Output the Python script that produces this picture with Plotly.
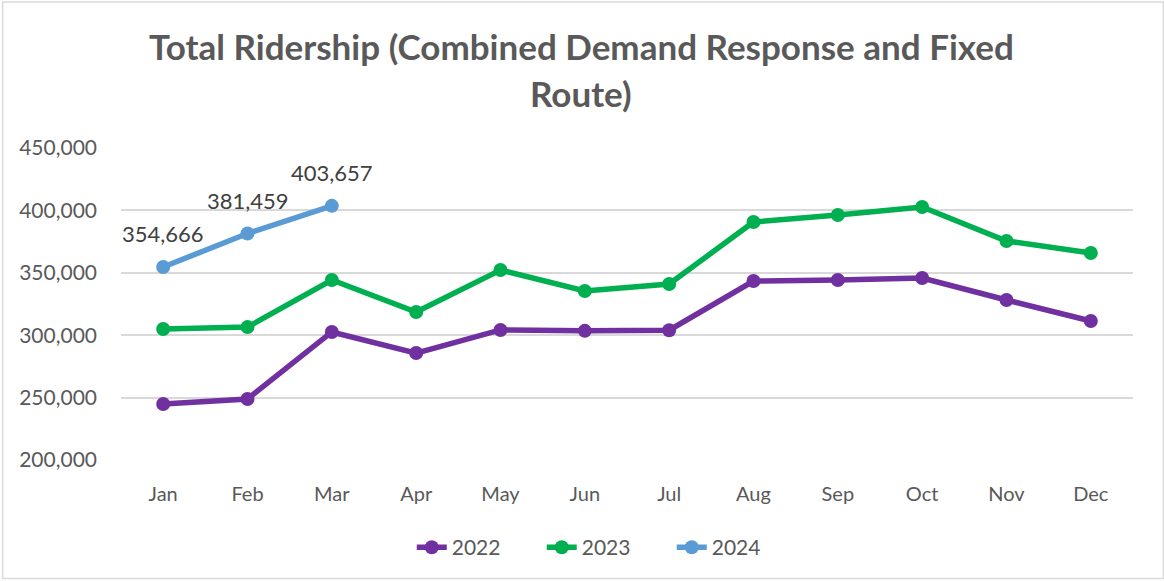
import plotly.graph_objects as go

months = ["Jan", "Feb", "Mar", "Apr", "May", "Jun", "Jul", "Aug", "Sep", "Oct", "Nov", "Dec"]
riders_2022 = [244900, 248900, 302600, 285700, 304200, 303500, 304000, 343400, 344200, 345800, 328200, 311400]
riders_2023 = [305000, 306500, 344200, 318600, 352200, 335400, 341000, 390700, 396300, 402700, 375500, 365900]
riders_2024 = [354666, 381459, 403657]

FONT = "Lato, sans-serif"
GRAY = "#595959"

fig = go.Figure()

series = [
    ("2022", riders_2022, "#7030A0"),
    ("2023", riders_2023, "#00B050"),
    ("2024", riders_2024, "#5B9BD5"),
]
for name, vals, col in series:
    fig.add_trace(go.Scatter(
        x=months[:len(vals)], y=vals, name=name, mode="lines+markers",
        line=dict(color=col, width=5.5),
        marker=dict(color=col, size=14),
    ))

# data labels for 2024
for m, v in zip(months, riders_2024):
    fig.add_annotation(x=m, y=v, text=f"{v:,}", showarrow=False, yshift=33,
                       font=dict(size=22, color="#404040", family=FONT))

# title as two lines
fig.add_annotation(text="<b>Total Ridership (Combined Demand Response and Fixed</b>",
                   xref="paper", yref="paper", x=0.455, y=1.327, showarrow=False,
                   font=dict(size=35, color=GRAY, family=FONT), yanchor="middle")
fig.add_annotation(text="<b>Route)</b>",
                   xref="paper", yref="paper", x=0.455, y=1.175, showarrow=False,
                   font=dict(size=35, color=GRAY, family=FONT), yanchor="middle")

# chart border
fig.add_shape(type="rect", xref="paper", yref="paper",
              x0=-0.117, x1=1.03, y0=-0.38, y1=1.468,
              line=dict(color="#D9D9D9", width=1.5), layer="below")

fig.update_layout(
    width=1164, height=581,
    margin=dict(l=121, r=31, t=148, b=121),
    plot_bgcolor="white", paper_bgcolor="white",
    font=dict(family=FONT, color=GRAY, size=20),
    showlegend=True,
    legend=dict(orientation="h", x=0.48, xanchor="center", y=-0.215, yanchor="top",
                font=dict(size=21, color=GRAY), entrywidth=85, traceorder="normal"),
    xaxis=dict(showgrid=False, showline=False, ticks="", tickfont=dict(size=20, color=GRAY),
               range=[-0.5, 11.5], ticklabelstandoff=20),
    yaxis=dict(range=[200000, 450000], dtick=50000, tickformat=",", showline=False,
               gridcolor="#D9D9D9", gridwidth=1.5, zeroline=False, ticks="",
               tickfont=dict(size=21, color=GRAY), ticklabelstandoff=23),
)

fig.write_html("out.html", config={"displayModeBar": False},
               post_script="document.body.style.margin='0px';")
